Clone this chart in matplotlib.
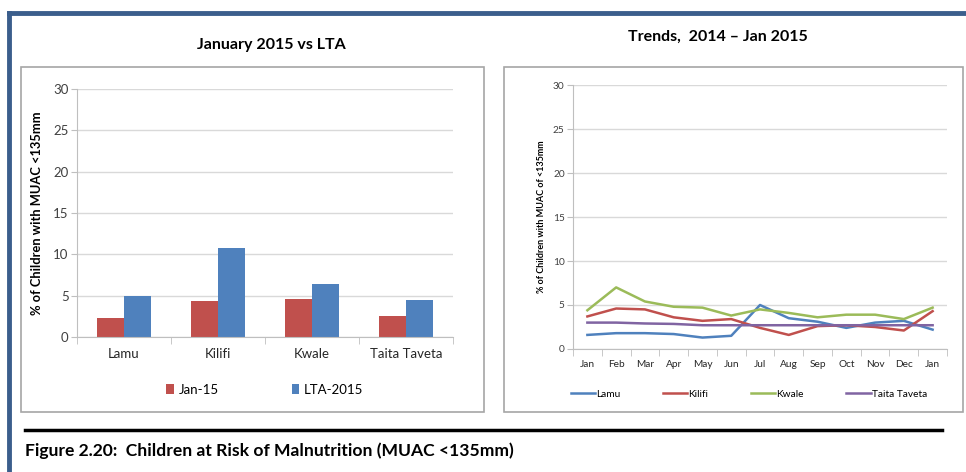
import matplotlib
matplotlib.use('Agg')
import matplotlib.pyplot as plt
from matplotlib.patches import Rectangle
from matplotlib.lines import Line2D
import numpy as np

# bar chart data (January 2015 vs long term average)
counties = ['Lamu', 'Kilifi', 'Kwale', 'Taita Taveta']
jan15 = [2.3, 4.3, 4.6, 2.6]
lta2015 = [5.0, 10.8, 6.4, 4.5]

# monthly trend data, Jan 2014 - Jan 2015
months = ['Jan', 'Feb', 'Mar', 'Apr', 'May', 'Jun', 'Jul', 'Aug', 'Sep', 'Oct', 'Nov', 'Dec', 'Jan']
lamu = [1.6, 1.8, 1.8, 1.7, 1.3, 1.5, 5.0, 3.5, 3.1, 2.4, 3.0, 3.2, 2.2]
kilifi = [3.7, 4.6, 4.5, 3.6, 3.2, 3.4, 2.4, 1.6, 2.6, 2.7, 2.5, 2.1, 4.3]
kwale = [4.4, 7.0, 5.4, 4.8, 4.7, 3.8, 4.5, 4.1, 3.6, 3.9, 3.9, 3.4, 4.7]
taita = [3.0, 3.0, 2.9, 2.85, 2.7, 2.7, 2.7, 2.7, 2.7, 2.7, 2.7, 2.7, 2.7]

RED = '#C0504D'
BLUE = '#4F81BD'
GREEN = '#9BBB59'
PURPLE = '#8064A2'
GRID = '#D9D9D9'
AXIS = '#BFBFBF'

plt.rcParams['font.family'] = ['Lato', 'DejaVu Sans']

W, H = 966, 472
fig = plt.figure(figsize=(W / 100, H / 100), dpi=100)


def px(x0, y0, x1, y1):
    # pixel box (top-left origin) -> figure rect
    return [x0 / W, 1 - y1 / H, (x1 - x0) / W, (y1 - y0) / H]


# outer blue frame (top and left only)
fig.add_artist(Line2D([9 / W, 1], [1 - 13 / H, 1 - 13 / H], color='#3B5E8C', lw=3.5,
                      transform=fig.transFigure))
fig.add_artist(Line2D([9 / W, 9 / W], [0, 1 - 13 / H], color='#3B5E8C', lw=3.5,
                      transform=fig.transFigure))

# chart boxes
for x0, x1 in [(21, 484), (504, 963)]:
    r = px(x0, 67, x1, 412)
    fig.add_artist(Rectangle((r[0], r[1]), r[2], r[3], transform=fig.transFigure,
                             fill=False, ec='#A6A6A6', lw=1.2))


def style_axes(ax, ncat, tick_size):
    ax.set_ylim(0, 30)
    ax.set_yticks(range(0, 31, 5))
    ax.set_xlim(-0.5, ncat - 0.5)
    ax.grid(axis='y', color=GRID, lw=1)
    ax.set_axisbelow(True)
    for s in ['top', 'right']:
        ax.spines[s].set_visible(False)
    for s in ['left', 'bottom']:
        ax.spines[s].set_color(AXIS)
    ax.tick_params(axis='y', colors=AXIS, labelcolor='#404040', labelsize=tick_size,
                   length=4, pad=2)
    ax.tick_params(axis='x', which='major', length=0, labelcolor='#262626',
                   labelsize=tick_size, pad=8)
    ax.set_xticks(np.arange(-0.5, ncat, 1), minor=True)
    ax.tick_params(axis='x', which='minor', length=5, color=AXIS)


# left: bar chart
ax1 = fig.add_axes(px(77, 89, 453, 337))
x = np.arange(len(counties))
bw = 0.285
ax1.bar(x - bw / 2, jan15, bw, color=RED, label='Jan-15')
ax1.bar(x + bw / 2, lta2015, bw, color=BLUE, label='LTA-2015')
ax1.set_xticks(x)
ax1.set_xticklabels(counties)
style_axes(ax1, len(counties), 9.5)
ax1.set_ylabel('% of Children with MUAC <135mm', fontsize=9.3, fontweight='bold', labelpad=7)
ax1.legend(loc='upper center', bbox_to_anchor=(0.5, -0.14), ncol=2, frameon=False,
           fontsize=9.5, handlelength=0.55, handleheight=0.7, columnspacing=5.5, handletextpad=0.4)
fig.text(271 / W, 1 - 45 / H, 'January 2015 vs LTA', ha='center', va='center',
         fontsize=11.5, fontweight='bold')

# right: trend lines
ax2 = fig.add_axes(px(573, 85, 947, 349))
xm = np.arange(len(months))
for vals, col, name in [(lamu, BLUE, 'Lamu'), (kilifi, RED, 'Kilifi'),
                        (kwale, GREEN, 'Kwale'), (taita, PURPLE, 'Taita Taveta')]:
    ax2.plot(xm, vals, color=col, lw=1.8, label=name)
ax2.set_xticks(xm)
ax2.set_xticklabels(months)
style_axes(ax2, len(months), 7.3)
ax2.set_ylabel('% of Children with MUAC of <135mm', fontsize=6.5, fontweight='bold', labelpad=5)
ax2.legend(loc='upper center', bbox_to_anchor=(0.47, -0.12), ncol=4, frameon=False,
           fontsize=7.3, handlelength=2.4, columnspacing=4.2, handletextpad=0.1)
fig.text(718 / W, 1 - 37 / H, 'Trends,  2014 \u2013 Jan 2015', ha='center', va='center',
         fontsize=11.5, fontweight='bold')

# caption
fig.add_artist(Line2D([25 / W, 942 / W], [1 - 430 / H, 1 - 430 / H], color='black', lw=2.5,
                      transform=fig.transFigure))
fig.text(25 / W, 1 - 451 / H, 'Figure 2.20:  Children at Risk of Malnutrition (MUAC <135mm)',
         ha='left', va='center', fontsize=12.6, fontweight='bold')

fig.savefig('out.png', dpi=100)
